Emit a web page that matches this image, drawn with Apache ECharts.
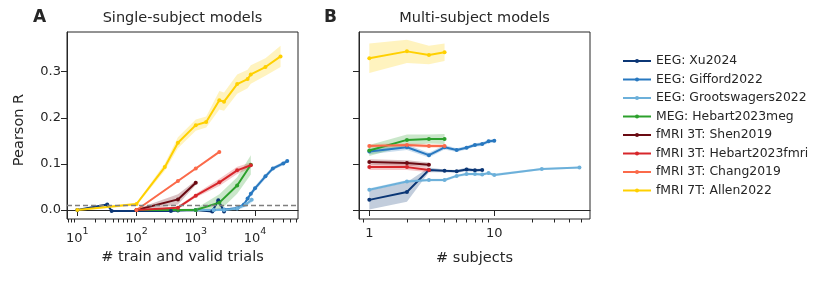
<!DOCTYPE html>
<html><head><meta charset="utf-8">
<script src="https://cdn.jsdelivr.net/npm/echarts@6/dist/echarts.min.js"></script>
<style>html,body{margin:0;padding:0;background:#fff}#c{width:830px;height:281px}</style>
</head><body><div id="c"></div>
<script>
// ---------- labels ----------
const seriesNames = ['EEG: Xu2024','EEG: Gifford2022','EEG: Grootswagers2022','MEG: Hebart2023meg',
  'fMRI 3T: Shen2019','fMRI 3T: Hebart2023fmri','fMRI 3T: Chang2019','fMRI 7T: Allen2022'];
const seriesColors = ['#0b3675','#2878c0','#6cb0da','#2ca02c','#6a0a12','#d7262b','#fb6a4a','#ffd000'];

// ---------- Panel A: single-subject (x = # train and valid trials) ----------
const A_Xu_x   = [10, 32, 38, 380, 500, 1000, 1900, 2400, 3000];
const A_Xu_y   = [0.0, 0.012, -0.002, -0.002, -0.001, 0.0, -0.003, 0.021, -0.003];
const A_Xu_ci  = [0.001, 0.002, 0.002, 0.002, 0.002, 0.002, 0.002, 0.004, 0.002];

const A_Gif_x  = [1000, 2000, 3000, 5000, 6500, 7500, 8500, 10000, 15000, 20000, 30000, 35000];
const A_Gif_y  = [0.0, 0.0, 0.001, 0.004, 0.012, 0.025, 0.035, 0.047, 0.073, 0.09, 0.101, 0.106];
const A_Gif_ci = [0.002, 0.002, 0.002, 0.003, 0.004, 0.005, 0.005, 0.005, 0.005, 0.004, 0.004, 0.004];

const A_Gro_x  = [1000, 2000, 3000, 5000, 7000, 8800];
const A_Gro_y  = [0.0, 0.0, 0.0, 0.003, 0.012, 0.022];
const A_Gro_ci = [0.002, 0.002, 0.002, 0.004, 0.005, 0.006];

const A_Meg_x  = [100, 500, 1000, 2500, 5000, 8500];
const A_Meg_y  = [0.0, 0.0, 0.0, 0.016, 0.053, 0.098];
const A_Meg_ci = [0.001, 0.002, 0.003, 0.018, 0.018, 0.021];

const A_Shen_x  = [100, 500, 1000];
const A_Shen_y  = [0.0, 0.023, 0.059];
const A_Shen_ci = [0.002, 0.011, 0.005];

const A_Hfm_x  = [100, 500, 1000, 2500, 5000, 8500];
const A_Hfm_y  = [0.0, 0.005, 0.031, 0.06, 0.086, 0.097];
const A_Hfm_ci = [0.001, 0.003, 0.004, 0.008, 0.008, 0.006];

const A_Chg_x  = [100, 500, 1000, 2500];
const A_Chg_y  = [0.0, 0.063, 0.09, 0.126];
const A_Chg_ci = [0.001, 0.002, 0.002, 0.002];

const A_All_x  = [10, 100, 300, 500, 1000, 1500, 2500, 3000, 5000, 7500, 8500, 15000, 27000];
const A_All_y  = [0.0, 0.013, 0.093, 0.146, 0.184, 0.191, 0.238, 0.235, 0.273, 0.284, 0.294, 0.31, 0.333];
const A_All_ci = [0.002, 0.003, 0.008, 0.012, 0.012, 0.012, 0.02, 0.02, 0.021, 0.02, 0.02, 0.019, 0.023];

const chanceLevelA = 0.01;

// ---------- Panel B: multi-subject (x = # subjects) ----------
const B_Xu_x   = [1, 2, 3, 4, 5, 6, 7, 8];
const B_Xu_y   = [0.022, 0.039, 0.087, 0.085, 0.084, 0.088, 0.086, 0.087];
const B_Xu_ci  = [0.021, 0.021, 0.005, 0.003, 0.003, 0.004, 0.003, 0.003];

const B_Gif_x  = [1, 2, 3, 4, 5, 6, 7, 8, 9, 10];
const B_Gif_y  = [0.127, 0.136, 0.119, 0.136, 0.130, 0.135, 0.141, 0.143, 0.149, 0.150];
const B_Gif_ci = [0.006, 0.006, 0.005, 0.005, 0.004, 0.004, 0.004, 0.004, 0.004, 0.004];

const B_Gro_x  = [1, 2, 3, 4, 5, 6, 7, 8, 9, 10, 24, 48];
const B_Gro_y  = [0.044, 0.062, 0.065, 0.065, 0.074, 0.078, 0.078, 0.077, 0.080, 0.076, 0.089, 0.092];
const B_Gro_ci = [0.003, 0.003, 0.003, 0.003, 0.003, 0.003, 0.003, 0.003, 0.003, 0.003, 0.002, 0.002];

const B_Meg_x  = [1, 2, 3, 4];
const B_Meg_y  = [0.129, 0.152, 0.154, 0.154];
const B_Meg_ci = [0.012, 0.012, 0.010, 0.011];

const B_Shen_x  = [1, 2, 3];
const B_Shen_y  = [0.104, 0.102, 0.098];
const B_Shen_ci = [0.006, 0.006, 0.005];

const B_Hfm_x  = [1, 2, 3];
const B_Hfm_y  = [0.093, 0.093, 0.087];
const B_Hfm_ci = [0.006, 0.006, 0.005];

const B_Chg_x  = [1, 2, 3, 4];
const B_Chg_y  = [0.139, 0.141, 0.139, 0.139];
const B_Chg_ci = [0.004, 0.004, 0.004, 0.004];

const B_All_x  = [1, 2, 3, 4];
const B_All_y  = [0.329, 0.344, 0.336, 0.342];
const B_All_ci = [0.032, 0.025, 0.020, 0.019];

// ---------- ticks ----------
const yTicks = [0, 0.1, 0.2, 0.3];
const xTicksA = [10, 100, 1000, 10000];
const xTickExpA = ['1', '2', '3', '4'];
const xMinorA = [7, 8, 9, 20, 30, 40, 50, 60, 70, 80, 90, 200, 300, 400, 500, 600, 700, 800, 900,
  2000, 3000, 4000, 5000, 6000, 7000, 8000, 9000, 20000, 30000, 40000, 50000];
const xTicksB = [1, 10];
const xTickLabelsB = ['1', '10'];
const xMinorB = [0.9, 2, 3, 4, 5, 6, 7, 8, 9, 20, 30, 40, 50];

// ---------- build ----------
const panelA = [
  [A_Xu_x, A_Xu_y, A_Xu_ci], [A_Gif_x, A_Gif_y, A_Gif_ci], [A_Gro_x, A_Gro_y, A_Gro_ci],
  [A_Meg_x, A_Meg_y, A_Meg_ci], [A_Shen_x, A_Shen_y, A_Shen_ci], [A_Hfm_x, A_Hfm_y, A_Hfm_ci],
  [A_Chg_x, A_Chg_y, A_Chg_ci], [A_All_x, A_All_y, A_All_ci]];
const panelB = [
  [B_Xu_x, B_Xu_y, B_Xu_ci], [B_Gif_x, B_Gif_y, B_Gif_ci], [B_Gro_x, B_Gro_y, B_Gro_ci],
  [B_Meg_x, B_Meg_y, B_Meg_ci], [B_Shen_x, B_Shen_y, B_Shen_ci], [B_Hfm_x, B_Hfm_y, B_Hfm_ci],
  [B_Chg_x, B_Chg_y, B_Chg_ci], [B_All_x, B_All_y, B_All_ci]];

const FONT = '"DejaVu Sans", sans-serif';
const INK = '#262626';

function bandSeries(xs, ys, ci, color, xi, yi) {
  const data = xs.map((x, i) => [x, ys[i] - ci[i], ys[i] + ci[i]]);
  return {
    type: 'custom', xAxisIndex: xi, yAxisIndex: yi, silent: true, z: 1, clip: true,
    encode: { x: 0, y: [1, 2] }, data: data,
    renderItem: function (params, api) {
      if (params.dataIndex !== 0) return null;
      const pts = [];
      for (let i = 0; i < data.length; i++) pts.push(api.coord([data[i][0], data[i][2]]));
      for (let i = data.length - 1; i >= 0; i--) pts.push(api.coord([data[i][0], data[i][1]]));
      return { type: 'polygon', shape: { points: pts }, style: { fill: color, opacity: 0.25 } };
    }
  };
}
function lineSeries(name, xs, ys, color, xi, yi) {
  return {
    type: 'line', name: name, xAxisIndex: xi, yAxisIndex: yi, z: 3,
    data: xs.map((x, i) => [x, ys[i]]),
    symbol: 'circle', symbolSize: 4, showSymbol: true,
    itemStyle: { color: color }, lineStyle: { color: color, width: 2 },
    emphasis: { disabled: true }, silent: true
  };
}

const series = [];
panelA.forEach((p, k) => series.push(bandSeries(p[0], p[1], p[2], seriesColors[k], 0, 0)));
panelB.forEach((p, k) => series.push(bandSeries(p[0], p[1], p[2], seriesColors[k], 2, 1)));
panelA.forEach((p, k) => series.push(lineSeries(seriesNames[k], p[0], p[1], seriesColors[k], 0, 0)));
panelB.forEach((p, k) => series.push(lineSeries(seriesNames[k], p[0], p[1], seriesColors[k], 2, 1)));
series.push({
  type: 'line', xAxisIndex: 0, yAxisIndex: 0, data: [], z: 4,
  markLine: { silent: true, symbol: 'none', label: { show: false },
    lineStyle: { type: [5, 3], color: '#7f7f7f', width: 1.3 },
    data: [{ yAxis: chanceLevelA }] }
});

const tickStyle = { color: INK, width: 1 };
function mainX(grid, min, max, ticks, formatter) {
  return {
    type: 'log', gridIndex: grid, min: min, max: max, position: 'bottom',
    axisLine: { show: true, lineStyle: tickStyle },
    axisTick: { show: true, customValues: ticks, length: 6, lineStyle: tickStyle },
    axisLabel: { customValues: ticks, formatter: formatter, margin: 8, color: INK, fontFamily: FONT, fontSize: 13,
      rich: { b: { fontSize: 13, fontFamily: FONT, color: INK, lineHeight: 18, verticalAlign: 'bottom' },
              s: { fontSize: 9.5, fontFamily: FONT, color: INK, lineHeight: 18, verticalAlign: 'top' } } },
    splitLine: { show: false }, minorTick: { show: false }
  };
}
function minorX(grid, min, max, ticks) {
  return {
    type: 'log', gridIndex: grid, min: min, max: max, position: 'bottom',
    axisLine: { show: false },
    axisTick: { show: true, customValues: ticks, length: 3.5, lineStyle: tickStyle },
    axisLabel: { show: false }, splitLine: { show: false }
  };
}
function yAx(grid, showLabels) {
  return {
    type: 'value', gridIndex: grid, min: -0.0195, max: 0.386,
    axisLine: { show: true, lineStyle: tickStyle },
    axisTick: { show: true, customValues: yTicks, length: 6, lineStyle: tickStyle },
    axisLabel: { show: showLabels, customValues: yTicks, formatter: v => v.toFixed(1), margin: 6,
      color: INK, fontFamily: FONT, fontSize: 13 },
    splitLine: { show: false }
  };
}

const option = {
  backgroundColor: '#fff',
  animation: false,
  grid: [
    { left: 67, right: 532, top: 32, bottom: 62, show: true, borderColor: INK, borderWidth: 1, backgroundColor: 'transparent' },
    { left: 359, right: 240, top: 32, bottom: 62, show: true, borderColor: INK, borderWidth: 1, backgroundColor: 'transparent' }
  ],
  xAxis: [
    mainX(0, 6.70, 53200, xTicksA, v => '{b|10}{s|' + xTickExpA[xTicksA.indexOf(v)] + '}'),
    minorX(0, 6.70, 53200, xMinorA),
    mainX(1, 0.827, 58.3, xTicksB, v => xTickLabelsB[xTicksB.indexOf(v)]),
    minorX(1, 0.827, 58.3, xMinorB)
  ],
  yAxis: [yAx(0, true), yAx(1, false)],
  legend: {
    data: seriesNames, orient: 'vertical', left: 617, top: 50,
    itemWidth: 28, itemHeight: 5, itemGap: 6.5,
    textStyle: { color: INK, fontFamily: FONT, fontSize: 12.4 },
    selectedMode: false
  },
  graphic: [
    { type: 'text', x: 33, y: 18, style: { text: 'A', fontSize: 17, fontWeight: 'bold', fontFamily: FONT, fill: INK, align: 'left', verticalAlign: 'middle' } },
    { type: 'text', x: 324, y: 18, style: { text: 'B', fontSize: 17, fontWeight: 'bold', fontFamily: FONT, fill: INK, align: 'left', verticalAlign: 'middle' } },
    { type: 'text', x: 182.5, y: 18, style: { text: 'Single-subject models', fontSize: 14.5, fontFamily: FONT, fill: INK, align: 'center', verticalAlign: 'middle' } },
    { type: 'text', x: 474.5, y: 18, style: { text: 'Multi-subject models', fontSize: 14.5, fontFamily: FONT, fill: INK, align: 'center', verticalAlign: 'middle' } },
    { type: 'text', x: 182.5, y: 257, style: { text: '# train and valid trials', fontSize: 14.5, fontFamily: FONT, fill: INK, align: 'center', verticalAlign: 'middle' } },
    { type: 'text', x: 474.5, y: 258, style: { text: '# subjects', fontSize: 14.5, fontFamily: FONT, fill: INK, align: 'center', verticalAlign: 'middle' } },
    { type: 'text', x: 19, y: 130, rotation: Math.PI / 2, style: { text: 'Pearson R', fontSize: 14.5, fontFamily: FONT, fill: INK, align: 'center', verticalAlign: 'middle' } }
  ],
  series: series
};

const chart = echarts.init(document.getElementById('c'), null, { renderer: 'canvas' });
chart.setOption(option);
</script>
</body></html>
